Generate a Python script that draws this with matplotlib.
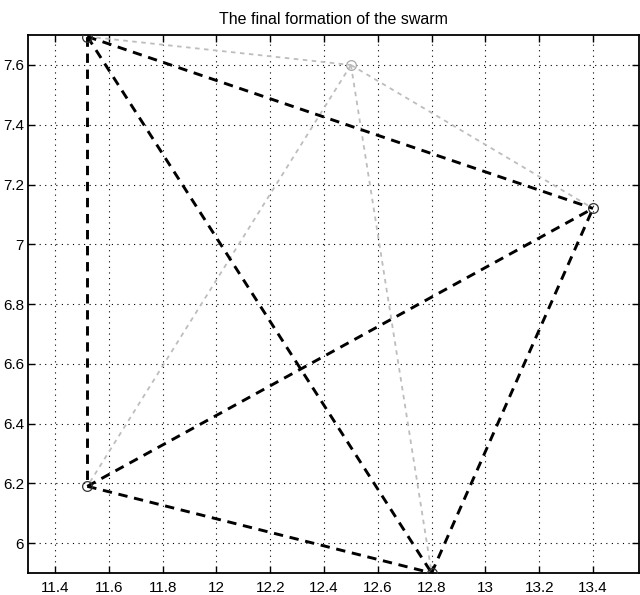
import matplotlib
matplotlib.use("Agg")
import matplotlib.pyplot as plt

# Node positions of the swarm
node_x = [11.52, 12.50, 13.40, 11.52, 12.80]
node_y = [7.695, 7.60, 7.12, 6.19, 5.90]
node_labels = ["A", "B", "C", "D", "E"]

# Edges: black dashed (strong) and grey (faint)
black_edges = [(0, 3), (0, 2), (0, 4), (3, 2), (3, 4), (4, 2)]
grey_edges = [(0, 1), (1, 2), (1, 3), (1, 4)]

xticks = [11.4, 11.6, 11.8, 12, 12.2, 12.4, 12.6, 12.8, 13, 13.2, 13.4]
xtick_labels = ["11.4", "11.6", "11.8", "12", "12.2", "12.4", "12.6", "12.8", "13", "13.2", "13.4"]
yticks = [6, 6.2, 6.4, 6.6, 6.8, 7, 7.2, 7.4, 7.6]
ytick_labels = ["6", "6.2", "6.4", "6.6", "6.8", "7", "7.2", "7.4", "7.6"]

plt.rcParams['font.family'] = ['Liberation Sans', 'DejaVu Sans']

fig = plt.figure(figsize=(6.4, 5.95), dpi=100)
ax = fig.add_axes([0.044, 0.037, 0.954, 0.904])

for i, j in grey_edges:
    ax.plot([node_x[i], node_x[j]], [node_y[i], node_y[j]], color="#bdbdbd",
            lw=1.3, dashes=(2.5, 2.5), zorder=2)
for i, j in black_edges:
    ax.plot([node_x[i], node_x[j]], [node_y[i], node_y[j]], color="black",
            lw=2.1, dashes=(3.2, 2.3), zorder=3)

ax.plot([node_x[k] for k in (0, 2, 3, 4)], [node_y[k] for k in (0, 2, 3, 4)],
        ls="none", marker="o", mfc="none", mec="#333333", ms=7, mew=0.9, zorder=4)
ax.plot([node_x[1]], [node_y[1]], ls="none", marker="o", mfc="none",
        mec="#aaaaaa", ms=7, mew=0.9, zorder=4)

ax.set_xlim(11.3, 13.57)
ax.set_ylim(5.9, 7.7)
ax.set_xticks(xticks)
ax.set_xticklabels(xtick_labels)
ax.set_yticks(yticks)
ax.set_yticklabels(ytick_labels)
ax.grid(True, color="black", linestyle=(0, (1, 4)), linewidth=0.8)
ax.tick_params(direction="in", top=True, right=True, labelsize=11, length=5,
               width=1.0)
ax.tick_params(axis="x", pad=6)
ax.tick_params(axis="y", pad=3)
for s in ax.spines.values():
    s.set_linewidth(1.3)
ax.set_title("The final formation of the swarm", fontsize=11.5, pad=8)

fig.savefig("out.png", dpi=100)
